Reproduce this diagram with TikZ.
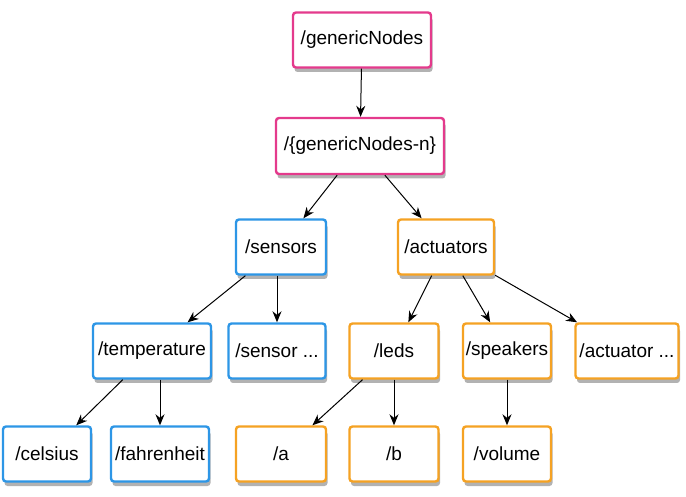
\documentclass[tikz,border=0pt]{standalone}
\usepackage{fontspec}
\setmainfont{Liberation Sans}
\usetikzlibrary{shadows, arrows.meta}

\definecolor{pinkline}{RGB}{228,58,140}
\definecolor{blueline}{RGB}{45,150,230}
\definecolor{orangeline}{RGB}{245,162,35}

\begin{document}
\begin{tikzpicture}[x=1pt, y=1pt,
    box/.style={draw, line width=2.4pt, rounded corners=3pt, fill=white,
        minimum height=55pt, minimum width=88pt, inner sep=2pt,
        font=\fontsize{19}{22}\selectfont,
        drop shadow={shadow xshift=1.5pt, shadow yshift=-4.5pt, fill=black!30, opacity=1}},
    pinkbox/.style={box, draw=pinkline},
    bluebox/.style={box, draw=blueline},
    orangebox/.style={box, draw=orangeline},
    link/.style={-{Stealth[length=11pt,width=9pt]}, line width=1pt}]
            \useasboundingbox (0,0) rectangle (686,496);

            \node[pinkbox, minimum width=138pt] (generic) at (362,456) {/genericNodes};
            \node[pinkbox, minimum width=168pt, minimum height=56pt] (genericn) at (360,350) {/\{genericNodes-n\}};

            \node[bluebox, minimum width=90pt] (sensors) at (281,249) {/sensors};
            \node[orangebox, minimum width=96pt] (actuators) at (446,249) {/actuators};

            \node[bluebox, minimum width=118pt] (temperature) at (152,145) {/temperature};
            \node[bluebox, minimum width=97pt] (sensormore) at (277,145) {/sensor ...};
            \node[orangebox, minimum width=89pt] (leds) at (394,145) {/leds};
            \node[orangebox] (speakers) at (507,145) {/speakers};
            \node[orangebox, minimum width=103pt] (actuatormore) at (627,145) {/actuator ...};

            \node[bluebox] (celsius) at (47,42) {/celsius};
            \node[bluebox, minimum width=98pt] (fahrenheit) at (160,42) {/fahrenheit};
            \node[orangebox, minimum width=90pt] (a) at (281,42) {/a};
            \node[orangebox, minimum width=89pt] (b) at (394,42) {/b};
            \node[orangebox] (volume) at (507,42) {/volume};

            \draw[link] (generic) -- (genericn);
            \draw[link] (genericn) -- (sensors);
            \draw[link] (genericn) -- (actuators);
            \draw[link] (sensors) -- (temperature);
            \draw[link] (sensors.south -| sensormore) -- (sensormore);
            \draw[link] (actuators) -- (leds);
            \draw[link] (actuators) -- (speakers);
            \draw[link] (actuators) -- (actuatormore);
            \draw[link] (temperature) -- (celsius);
            \draw[link] (temperature.south -| fahrenheit) -- (fahrenheit);
            \draw[link] (leds) -- (a);
            \draw[link] (leds) -- (b);
            \draw[link] (speakers) -- (volume);
        \end{tikzpicture}
\end{document}
